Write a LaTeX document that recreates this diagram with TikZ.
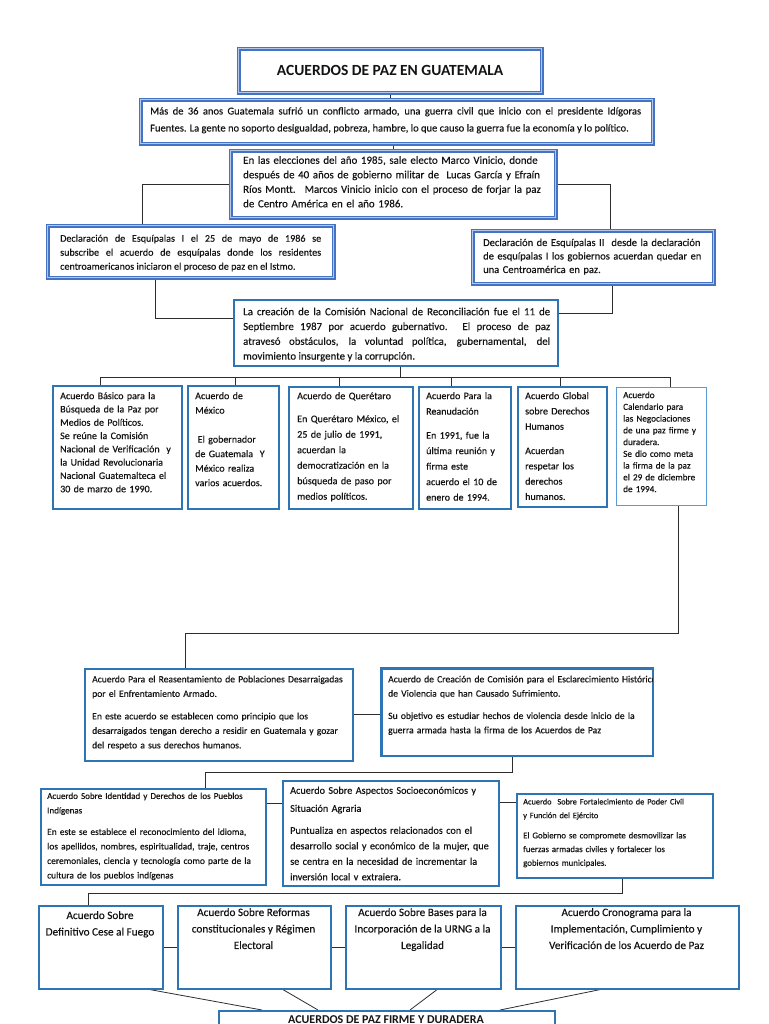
\documentclass[tikz,border=0pt]{standalone}
\usepackage{fontspec}
\setmainfont{Carlito}[UprightFeatures={FakeBold=0.3}]
\usetikzlibrary{calc,backgrounds}
\definecolor{bblue}{RGB}{46,117,182}
\definecolor{dblue}{RGB}{68,114,196}
\definecolor{lblue}{RGB}{180,199,231}
\definecolor{tblue}{RGB}{91,155,213}
\definecolor{txtc}{RGB}{20,20,20}
\definecolor{connc}{RGB}{45,45,45}
\tikzset{
  dbox/.style={draw=dblue, line width=1.3pt, double=lblue, double distance=1.2pt, fill=white},
  sbox/.style={draw=bblue, line width=1.6pt, fill=white},
  tbox/.style={draw=tblue, line width=0.9pt, fill=white},
  tx/.style={inner sep=0pt, anchor=north west, text=txtc},
  conn/.style={draw=connc, line width=0.8pt},
}
\newcommand\mkbox[6]{\node[#6, anchor=north west, inner sep=0pt, minimum width={#4-#2}, minimum height={#5-#3}] (#1) at (#2,#3) {};}
\newcommand\fs[2]{\fontsize{#1}{#2}\selectfont}
\begin{document}
\begin{tikzpicture}[x=1pt,y=-1pt]
\useasboundingbox (0,0) rectangle (768,1024);
\clip (0,0) rectangle (768,1024);
% ---------- boxes ----------
\mkbox{T}{238}{48}{541}{92}{dbox}
\node[tx, anchor=center, font=\fs{15.5}{18}\bfseries] (Tt) at (T.center) {ACUERDOS DE PAZ EN GUATEMALA};

\mkbox{A}{140}{99}{652}{143}{dbox}
\node[tx, text width=491pt, align=justify, font=\fs{10.5}{17}] (At) at (150,107) {Más de 36 anos Guatemala sufrió un conflicto armado, una guerra civil que inicio con el presidente Idígoras\linebreak Fuentes. La gente no soporto desigualdad, pobreza, hambre, lo que causo la guerra fue la economía y lo político.};

\mkbox{B}{230}{150}{555}{217}{dbox}
\node[tx, text width=305pt, align=left, font=\fs{10.9}{14.5}] (Bt) at (243,156) {En las elecciones del año 1985, sale electo Marco Vinicio, donde\\después de 40 años de gobierno militar de ~Lucas García y Efraín\\Ríos Montt. ~Marcos Vinicio inicio con el proceso de forjar la paz\\de Centro América en el año 1986.};

\mkbox{C}{47}{225}{333}{277}{dbox}
\node[tx, text width=261pt, align=justify, font=\fs{10.1}{14}] (Ct) at (60,234.5) {Declaración de Esquípalas I el 25 de mayo de 1986 se\linebreak subscribe el acuerdo de esquípalas donde los residentes\linebreak centroamericanos iniciaron el proceso de paz en el Istmo.};

\mkbox{D}{472}{230}{713}{283}{dbox}
\node[tx, text width=228pt, align=left, font=\fs{10.5}{13.5}] (Dt) at (483,238.5) {Declaración de Esquípalas II ~desde la declaración\\de esquípalas I los gobiernos acuerdan quedar en\\una Centroamérica en paz.};

\mkbox{E}{233}{299}{557}{365}{sbox}
\node[tx, text width=307pt, align=justify, font=\fs{10.8}{14.8}] (Et) at (243,307.5) {La creación de la Comisión Nacional de Reconciliación fue el 11 de\linebreak Septiembre 1987 por acuerdo gubernativo. El proceso de paz\linebreak atravesó obstáculos, la voluntad política, gubernamental, del\linebreak movimiento insurgente y la corrupción.};

% row of six
\mkbox{F1}{52}{385}{181}{508}{sbox}
\node[tx, text width=124pt, align=left, font=\fs{10}{13.3}] (F1t) at (60,392) {Acuerdo Básico para la\\Búsqueda de la Paz por\\Medios de Políticos.\\Se reúne la Comisión\\Nacional de Verificación ~y\\la Unidad Revolucionaria\\Nacional Guatemalteca el\\30 de marzo de 1990.};

\mkbox{F2}{187}{385}{278}{508}{sbox}
\node[tx, text width=86pt, align=left, font=\fs{10}{14.5}] (F2t) at (195,392) {Acuerdo de\\México\\[14.5pt]\hspace*{0.25em}El gobernador\\de Guatemala ~Y\\México realiza\\varios acuerdos.};

\mkbox{F3}{288}{386}{412}{508}{sbox}
\node[tx, text width=115pt, align=left, font=\fs{10.1}{15.5}] (F3t) at (297,392) {Acuerdo de Querétaro\\[7.5pt]En Querétaro México, el\\25 de julio de 1991,\\acuerdan la\\democratización en la\\búsqueda de paso por\\medios políticos.};

\mkbox{F4}{418}{386}{510}{508}{sbox}
\node[tx, text width=86pt, align=left, font=\fs{10}{15.5}] (F4t) at (426,392) {Acuerdo Para la\\Reanudación\\[8.5pt]En 1991, fue la\\última reunión y\\firma este\\acuerdo el 10 de\\enero de 1994.};

\mkbox{F5}{517}{386}{606}{506}{sbox}
\node[tx, text width=84pt, align=left, font=\fs{10}{15.3}] (F5t) at (525,392) {Acuerdo Global\\sobre Derechos\\Humanos\\[9pt]Acuerdan\\respetar los\\derechos\\humanos.};

\mkbox{F6}{616}{387}{706}{505}{tbox}
\node[tx, text width=86pt, align=left, font=\fs{9.2}{11.75}] (F6t) at (623,391.5) {Acuerdo\\Calendario para\\las Negociaciones\\de una paz firme y\\duradera.\\Se dio como meta\\la firma de la paz\\el 29 de diciembre\\de 1994.};

% second block
\mkbox{G1}{84}{668}{352}{760}{sbox}
\node[tx, text width=262pt, align=left, font=\fs{9.6}{14.5}] (G1t) at (92,675.5) {Acuerdo Para el Reasentamiento de Poblaciones Desarraigadas\\por el Enfrentamiento Armado.\\[8pt]En este acuerdo se establecen como principio que los\\desarraigados tengan derecho a residir en Guatemala y gozar\\del respeto a sus derechos humanos.};

\mkbox{G2}{381}{668}{652}{755}{sbox}
\begin{scope}
\clip (G2.north west) rectangle (G2.south east);
\node[tx, text width=300pt, align=left, font=\fs{9.6}{14.3}] (G2t) at (388,675.5) {Acuerdo de Creación de Comisión para el Esclarecimiento Histórico\\de Violencia que han Causado Sufrimiento.\\[8pt]Su objetivo es estudiar hechos de violencia desde inicio de la\\guerra armada hasta la firma de los Acuerdos de Paz};
\end{scope}
\draw[bblue, line width=1.6pt] (G2.north west) rectangle (G2.south east);

\mkbox{H1}{40}{788}{265}{884}{sbox}
\node[tx, text width=222pt, align=left, font=\fs{9.4}{14.5}] (H1t) at (47,792.5) {{\fs{9}{14.5}Acuerdo Sobre Identidad y Derechos de los Pueblos\\Indígenas}\\[7pt]En este se establece el reconocimiento del idioma,\\los apellidos, nombres, espiritualidad, traje, centros\\ceremoniales, ciencia y tecnología como parte de la\\cultura de los pueblos indígenas};

\mkbox{H2}{282}{780}{498}{885}{sbox}
\node[tx, text width=212pt, align=left, font=\fs{10.2}{15.5}] (H2t) at (290,786.5) {Acuerdo Sobre Aspectos Socioeconómicos y\\[2.5pt]Situación Agraria\\[6.5pt]Puntualiza en aspectos relacionados con el\\desarrollo social y económico de la mujer, que\\se centra en la necesidad de incrementar la\\inversión local v extraiera.};

\mkbox{H3}{516}{793}{712}{877}{sbox}
\node[tx, text width=192pt, align=left, font=\fs{8.8}{13.7}] (H3t) at (523,798.5) {{\fs{8.3}{13.7}Acuerdo ~Sobre Fortalecimiento de Poder Civil\\y Función del Ejército}\\[6.5pt]El Gobierno se compromete desmovilizar las\\fuerzas armadas civiles y fortalecer los\\gobiernos municipales.};

% last row
\mkbox{I1}{38}{905}{162}{988}{sbox}
\node[tx, anchor=north, align=center, font=\fs{11.2}{16.5}] (I1t) at (100,911) {Acuerdo Sobre\\Definitivo Cese al Fuego};
\mkbox{I2}{177}{905}{330}{988}{sbox}
\node[tx, anchor=north, align=center, font=\fs{11.2}{16.5}] (I2t) at (253.5,908) {Acuerdo Sobre Reformas\\constitucionales y Régimen\\Electoral};
\mkbox{I3}{345}{905}{500}{988}{sbox}
\node[tx, anchor=north, align=center, font=\fs{11.2}{16.5}] (I3t) at (422.5,908) {Acuerdo Sobre Bases para la\\Incorporación de la URNG a la\\Legalidad};
\mkbox{I4}{515}{905}{738}{988}{sbox}
\node[tx, anchor=north, align=center, font=\fs{11.2}{16.5}] (I4t) at (626.5,908) {Acuerdo Cronograma para la\\Implementación, Cumplimiento y\\Verificación de los Acuerdo de Paz};

\mkbox{Z}{218}{1010}{554}{1050}{sbox}
\node[tx, anchor=north, font=\fs{12}{14}\bfseries] (Zt) at (386,1015) {ACUERDOS DE PAZ FIRME Y DURADERA};

% ---------- connectors ----------
\begin{scope}[on background layer]
\draw[conn] (T.south) -- (T.south |- A.north);
\draw[conn] (A.south -| B.north) -- (B.north);
\coordinate (Ct1) at ($(C.north west)+(95,0)$);
\draw[conn] (B.west) -| (Ct1);
\coordinate (Dt1) at ($(D.north west)+(138,0)$);
\draw[conn] (B.east) -| (Dt1);
\coordinate (Cb) at ($(C.south west)+(108,0)$);
\coordinate (El) at ($(E.north west)+(0,19)$);
\draw[conn] (Cb) |- (El);
\coordinate (Db) at ($(D.south west)+(140,0)$);
\coordinate (Er) at ($(E.north east)+(0,14)$);
\draw[conn] (Db) |- (Er);
% bus to row
\coordinate (busL) at ($(F1.north west)+(48,-8)$);
\coordinate (busR) at ($(F6.north west)+(54,-10)$);
\coordinate (Eb) at ($(E.south west)+(167,0)$);
\draw[conn] (Eb) -- (Eb |- busL);
\draw[conn] (busL |- F1.north) -- (busL) -- (busR) -- (busR |- F6.north);
\coordinate (F2t1) at ($(F2.north west)+(48,0)$);
\coordinate (F3t1) at ($(F3.north west)+(51,0)$);
\coordinate (F4t1) at ($(F4.north west)+(33,0)$);
\coordinate (F5t1) at ($(F5.north west)+(43,0)$);
\draw[conn] (F2t1) -- (F2t1 |- busL);
\draw[conn] (F3t1) -- (F3t1 |- busL);
\draw[conn] (F4t1) -- (F4t1 |- busL);
\draw[conn] (F5t1) -- (F5t1 |- busL);
% F6 to G1
\coordinate (F6b) at ($(F6.south west)+(62,0)$);
\coordinate (G1t1) at ($(G1.north west)+(101,0)$);
\draw[conn] (F6b) |- ($(G1t1)+(0,-35)$) -- (G1t1);
\draw[conn] (G1.east) -- (G1.east -| G2.west);
% G2 to H1
\coordinate (G2b) at ($(G2.south west)+(131,0)$);
\coordinate (H1t1) at ($(H1.north west)+(165,0)$);
\draw[conn] (G2b) |- ($(H1t1)+(0,-16)$) -- (H1t1);
\coordinate (H1r) at ($(H1.north east)+(0,15)$);
\draw[conn] (H1r) -- (H1r -| H2.west);
\coordinate (H3l) at ($(H3.north west)+(0,9)$);
\draw[conn] (H3l) -- (H3l -| H2.east);
% H3 to I1
\coordinate (H3b) at ($(H3.south west)+(106,0)$);
\coordinate (I1t1) at ($(I1.north west)+(50,0)$);
\draw[conn] (H3b) |- ($(I1t1)+(0,-12)$) -- (I1t1);
\draw[conn] (I1.east) -- (I2.west);
\draw[conn] (I2.east) -- (I3.west);
\draw[conn] (I3.east) -- (I4.west);
% to final
\draw[conn] ($(I1.south west)+(112,0)$) -- ($(Z.north west)+(44,0)$);
\draw[conn] ($(I2.south west)+(106,0)$) -- ($(Z.north west)+(100,0)$);
\draw[conn] ($(I3.south west)+(92,0)$) -- ($(Z.north west)+(192,0)$);
\draw[conn] ($(I4.south west)+(85,0)$) -- ($(Z.north west)+(282,0)$);
\end{scope}
\end{tikzpicture}
\end{document}
